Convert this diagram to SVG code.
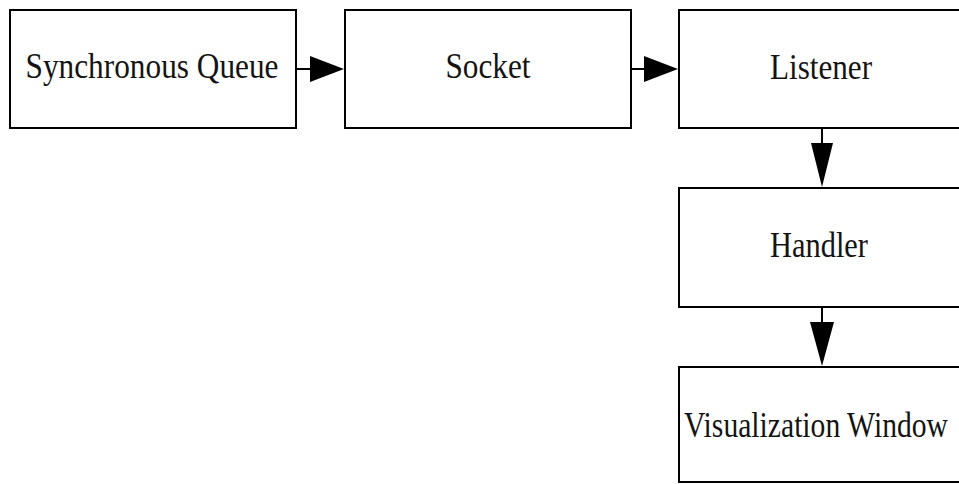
<svg xmlns="http://www.w3.org/2000/svg" width="959" height="484" viewBox="0 0 959 484">
  <style>
    .box { fill: #ffffff; stroke: #000000; stroke-width: 2; }
    .label { font-family: "Liberation Serif", "Times New Roman", serif; font-size: 36px; fill: #141414; text-anchor: middle; }
    .wire { stroke: #000000; stroke-width: 2; fill: none; }
    .head { fill: #000000; stroke: none; }
  </style>
  <rect x="0" y="0" width="959" height="484" fill="#ffffff"/>

  <g id="synchronous-queue">
    <rect class="box" x="10" y="10" width="286" height="118"/>
    <text class="label" x="152" y="78" textLength="253" lengthAdjust="spacingAndGlyphs">Synchronous Queue</text>
  </g>

  <g id="socket">
    <rect class="box" x="345" y="10" width="286" height="118"/>
    <text class="label" x="488" y="78" textLength="85" lengthAdjust="spacingAndGlyphs">Socket</text>
  </g>

  <g id="listener">
    <rect class="box" x="679" y="10" width="286" height="118"/>
    <text class="label" x="821" y="79" textLength="102" lengthAdjust="spacingAndGlyphs">Listener</text>
  </g>

  <g id="handler">
    <rect class="box" x="679" y="188" width="286" height="119"/>
    <text class="label" x="819" y="257" textLength="98" lengthAdjust="spacingAndGlyphs">Handler</text>
  </g>

  <g id="visualization-window">
    <rect class="box" x="679" y="367" width="286" height="115"/>
    <text class="label" x="816" y="437" textLength="264" lengthAdjust="spacingAndGlyphs">Visualization Window</text>
  </g>

  <g id="connectors">
    <!-- Synchronous Queue to Socket -->
    <line class="wire" x1="296" y1="69" x2="311" y2="69"/>
    <polygon class="head" points="310,56 344,69 310,82"/>
    <!-- Socket to Listener -->
    <line class="wire" x1="631" y1="69" x2="645" y2="69"/>
    <polygon class="head" points="644,56 678,69 644,82"/>
    <!-- Listener to Handler -->
    <line class="wire" x1="822" y1="128" x2="822" y2="144"/>
    <polygon class="head" points="811,143 833,143 822,187"/>
    <!-- Handler to Visualization Window -->
    <line class="wire" x1="822" y1="307" x2="822" y2="323"/>
    <polygon class="head" points="810,322 834,322 822,366"/>
  </g>
</svg>
